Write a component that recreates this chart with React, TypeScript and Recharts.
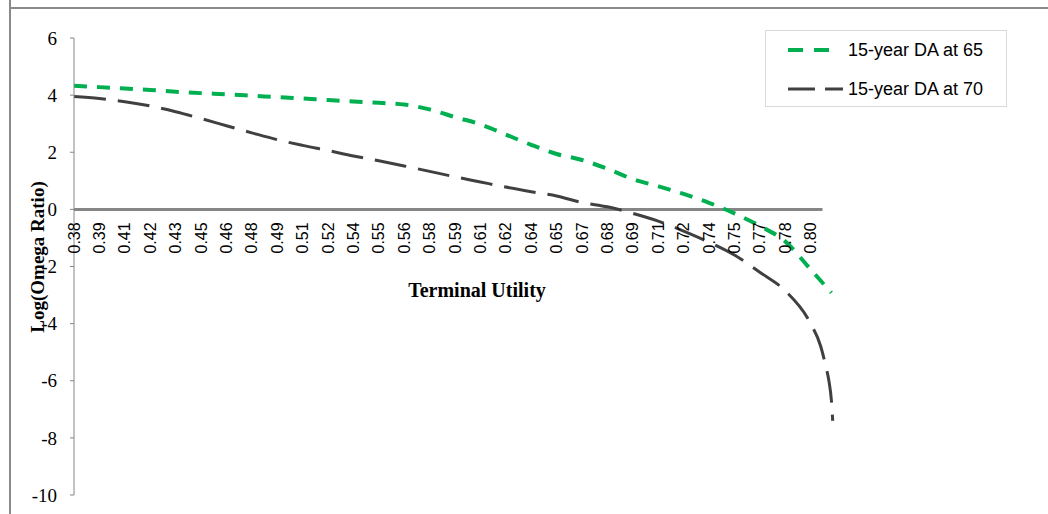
import { LineChart, Line, XAxis, YAxis, ReferenceLine } from 'recharts';

// Terminal utility category labels as printed on the axis
const utilityLabels = [
    '0.38', '0.39', '0.41', '0.42', '0.43', '0.45', '0.46', '0.48', '0.49', '0.51',
    '0.52', '0.54', '0.55', '0.56', '0.58', '0.59', '0.61', '0.62', '0.64', '0.65',
    '0.67', '0.68', '0.69', '0.71', '0.72', '0.74', '0.75', '0.77', '0.78', '0.80',
];

// position of each point, in category steps (the series run a bit past the last label)
const pointPos = [
    0, 1, 2, 3, 4, 5, 6, 7, 8, 9, 10, 11, 12, 13, 14, 15, 16, 17, 18, 19,
    20, 21, 22, 23, 24, 25, 26, 27, 28, 29, 29.4, 29.6, 29.72, 29.82, 29.87,
];

const da65 = [
    4.33, 4.28, 4.23, 4.18, 4.12, 4.07, 4.03, 3.98, 3.93, 3.88,
    3.83, 3.78, 3.73, 3.67, 3.5, 3.23, 2.98, 2.62, 2.26, 1.94,
    1.73, 1.42, 1.06, 0.81, 0.54, 0.23, -0.14, -0.58, -1.12, -2.1,
    -2.5, -2.7, -2.82, -2.92, null,
];

const da70 = [
    3.95, 3.88, 3.77, 3.62, 3.42, 3.18, 2.93, 2.68, 2.44, 2.24,
    2.06, 1.87, 1.7, 1.52, 1.33, 1.14, 0.96, 0.78, 0.62, 0.47,
    0.24, 0.09, -0.14, -0.41, -0.76, -1.15, -1.6, -2.2, -2.85, -4.0,
    -4.8, -5.5, -6.0, -6.7, -7.4,
];

const yTicks = [-10, -8, -6, -4, -2, 0, 2, 4, 6];

const chartData = pointPos.map((pos, i) => ({ pos, da65: da65[i], da70: da70[i] }));

const TOP = 38;
const PLOT_H = 457;
const ZERO_Y = TOP + (6 / 16) * PLOT_H;
const GREEN = '#00B050';
const DARK = '#404040';
const AXIS = '#868686';
const SERIF = "'Liberation Serif', 'Times New Roman', serif";
const SANS = "'Liberation Sans', Arial, sans-serif";

function UtilityTick(props: any) {
    const { x, payload } = props;
    const ty = ZERO_Y + 13;
    return (
        <text
            x={x}
            y={ty}
            transform={`rotate(-90 ${x} ${ty})`}
            textAnchor="end"
            dominantBaseline="central"
            fontSize={16}
            fontFamily={SANS}
            fill="#000"
        >
            {utilityLabels[payload.value]}
        </text>
    );
}

export default function App() {
    return (
        <div style={{ position: 'absolute', left: 0, top: 0, width: 1048, height: 514, background: '#fff' }}>
            {/* frame lines from the original figure */}
            <div style={{ position: 'absolute', left: 9, top: 0, width: 2, height: 514, background: '#8a8a8a' }} />
            <div style={{ position: 'absolute', left: 9, top: 7, width: 1039, height: 2, background: '#8a8a8a' }} />

            <LineChart
                width={1048}
                height={514}
                data={chartData}
                margin={{ top: TOP, right: 212, left: 0, bottom: 0 }}
            >
                <XAxis
                    dataKey="pos"
                    type="number"
                    domain={[0, 30]}
                    ticks={utilityLabels.map((_, i) => i)}
                    interval={0}
                    axisLine={false}
                    tickLine={false}
                    height={19}
                    tick={<UtilityTick />}
                    label={{
                        content: () => (
                            <text
                                x={477}
                                y={297}
                                textAnchor="middle"
                                fontSize={20}
                                fontWeight="bold"
                                fontFamily={SERIF}
                                fill="#000"
                            >
                                Terminal Utility
                            </text>
                        ),
                    }}
                />
                <YAxis
                    width={74}
                    domain={[-10, 6]}
                    ticks={yTicks}
                    interval={0}
                    tickSize={4}
                    tickMargin={13}
                    stroke={AXIS}
                    tick={{ fill: '#000', fontSize: 19, fontFamily: SERIF }}
                    label={{
                        content: () => (
                            <text
                                x={44}
                                y={257}
                                transform="rotate(-90 44 257)"
                                textAnchor="middle"
                                fontSize={19}
                                fontWeight="bold"
                                fontFamily={SERIF}
                                fill="#000"
                            >
                                Log(Omega Ratio)
                            </text>
                        ),
                    }}
                />
                <ReferenceLine
                    segment={[{ x: 0, y: 0 }, { x: 29.47, y: 0 }]}
                    stroke={AXIS}
                    strokeWidth={3}
                    ifOverflow="visible"
                />
                <Line
                    type="monotone"
                    dataKey="da65"
                    stroke={GREEN}
                    strokeWidth={4}
                    strokeDasharray="13 10"
                    dot={false}
                    isAnimationActive={false}
                />
                <Line
                    type="monotone"
                    dataKey="da70"
                    stroke={DARK}
                    strokeWidth={3}
                    strokeDasharray="32 12"
                    dot={false}
                    isAnimationActive={false}
                />
            </LineChart>

            {/* legend box */}
            <div
                style={{
                    position: 'absolute',
                    left: 765,
                    top: 30,
                    width: 240,
                    height: 75,
                    border: '1px solid #d9d9d9',
                }}
            >
                <svg width={240} height={75} style={{ position: 'absolute', left: 0, top: 0 }}>
                    <line x1={22} y1={19} x2={66} y2={19} stroke={GREEN} strokeWidth={4} strokeDasharray="15 11" />
                    <line x1={22} y1={58} x2={77} y2={58} stroke={DARK} strokeWidth={3} strokeDasharray="27 10" />
                    <text x={82} y={25} fontSize={18} fontFamily={SANS} fill="#000">
                        15-year DA at 65
                    </text>
                    <text x={82} y={64} fontSize={18} fontFamily={SANS} fill="#000">
                        15-year DA at 70
                    </text>
                </svg>
            </div>
        </div>
    );
}
